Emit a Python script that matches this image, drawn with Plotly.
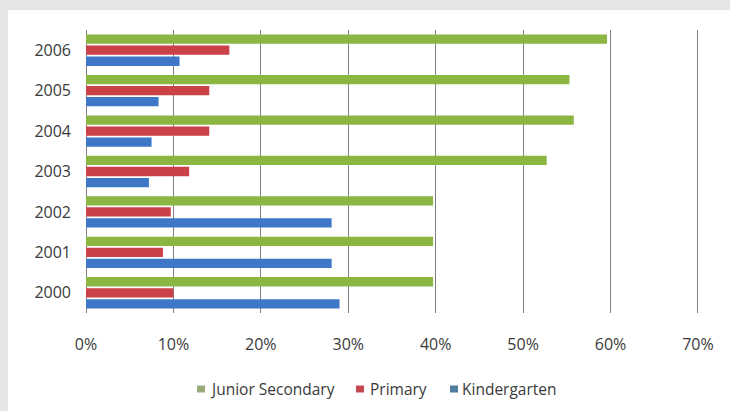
import plotly.graph_objects as go

years = ["2000", "2001", "2002", "2003", "2004", "2005", "2006"]
kindergarten = [0.290, 0.281, 0.281, 0.072, 0.075, 0.083, 0.107]
primary = [0.100, 0.088, 0.097, 0.118, 0.141, 0.141, 0.164]
junior_secondary = [0.397, 0.397, 0.397, 0.527, 0.558, 0.553, 0.596]
x_ticks = [0, 0.1, 0.2, 0.3, 0.4, 0.5, 0.6, 0.7]
x_tick_labels = ["0%", "10%", "20%", "30%", "40%", "50%", "60%", "70%"]
legend_names = ["Junior Secondary", "Primary", "Kindergarten"]

FONT = "Open Sans"
TXT = "#3a3a3a"
bar_colors = {"Kindergarten": "#3d77c6", "Primary": "#cc4148", "Junior Secondary": "#8cb642"}
legend_colors = {"Kindergarten": "#4f7d9e", "Primary": "#c44850", "Junior Secondary": "#9aaa78"}
series = {"Kindergarten": kindergarten, "Primary": primary, "Junior Secondary": junior_secondary}

fig = go.Figure()
for name in ["Kindergarten", "Primary", "Junior Secondary"]:
    fig.add_trace(go.Bar(name=name, y=years, x=series[name], orientation="h", showlegend=False,
                         marker=dict(color=bar_colors[name], line=dict(width=0))))

L, R, T, B = 86, 31, 30, 98
W, H = 730, 411
pw = W - L - R
ph = H - T - B


def px(x):
    return (x - L) / pw


def py(y):
    return (T + ph - y) / ph


# grey frame: top strip and left strip
fig.add_shape(type="rect", xref="paper", yref="paper",
              x0=px(-20), x1=px(W + 20), y0=py(10), y1=py(-20),
              fillcolor="#e4e5e7", line=dict(width=0), layer="below")
fig.add_shape(type="rect", xref="paper", yref="paper",
              x0=px(-20), x1=px(8), y0=py(H + 20), y1=py(-20),
              fillcolor="#e4e5e7", line=dict(width=0), layer="below")

# legend (small square keys + labels)
legend_marker_x = [197, 356, 450]
legend_text_x = [208, 368, 460]
for name, mx, tx in zip(legend_names, legend_marker_x, legend_text_x):
    fig.add_shape(type="rect", xref="paper", yref="paper",
                  x0=px(mx), x1=px(mx + 8), y0=py(392.5), y1=py(385.5),
                  fillcolor=legend_colors[name], line=dict(width=0))
    fig.add_annotation(xref="paper", yref="paper", x=px(tx), y=py(389),
                       xanchor="left", yanchor="middle", showarrow=False,
                       text=name, font=dict(size=15.5, color=TXT, family=FONT))

fig.update_layout(
    width=W, height=H,
    margin=dict(l=L, r=R, t=T, b=B),
    paper_bgcolor="white",
    plot_bgcolor="rgba(0,0,0,0)",
    barmode="group",
    bargap=0.18,
    bargroupgap=0.16,
    font=dict(family=FONT, size=16, color=TXT),
    showlegend=False,
    xaxis=dict(range=[0, 0.7012], tickvals=x_ticks, ticktext=x_tick_labels,
               showgrid=True, gridcolor="#808080", gridwidth=1,
               zeroline=True, zerolinecolor="#808080", zerolinewidth=1,
               showline=False, ticks="", ticklabelstandoff=20,
               tickfont=dict(size=16, color=TXT)),
    yaxis=dict(showgrid=False, zeroline=False, showline=False, ticks="",
               ticklabelstandoff=14, tickfont=dict(size=16, color=TXT),
               range=[-0.5, 6.5]),
)

post = (
    "var h=document.documentElement,b=document.body;"
    "h.style.margin='0';h.style.padding='0';h.style.overflow='hidden';h.style.background='white';"
    "b.style.margin='0';b.style.padding='0';b.style.overflow='hidden';b.style.background='white';"
)
fig.write_html("out.html", config={"displayModeBar": False}, post_script=post)
